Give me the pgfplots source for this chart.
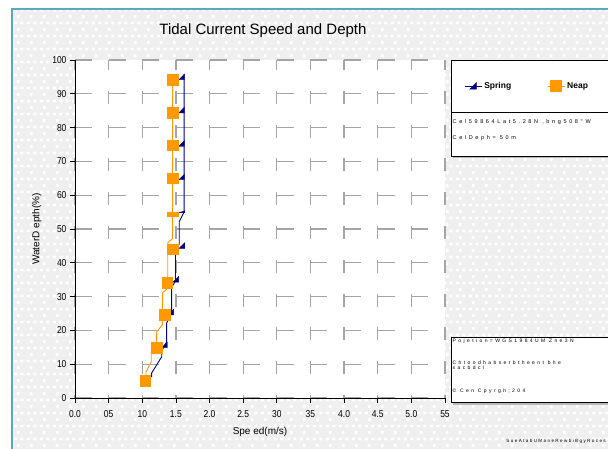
\documentclass[border=0pt]{standalone}
\usepackage{fontspec}
\setmainfont{Liberation Sans}
\newfontfamily\narrowfont[FakeStretch=0.85]{Liberation Sans}
\newfontfamily\spacedfont[LetterSpace=48]{Liberation Sans}
\newfontfamily\tightfont[LetterSpace=30]{Liberation Sans}
\usepackage{pgfplots}
\pgfplotsset{compat=1.18}
\usetikzlibrary{patterns}
\definecolor{springc}{RGB}{0,0,128}
\definecolor{neapc}{RGB}{255,153,0}
\definecolor{bggray}{RGB}{239,239,239}
\definecolor{teal1}{RGB}{90,168,184}
\definecolor{gridc}{RGB}{165,165,165}

\pgfdeclarepatternformonly{bgsq}{\pgfqpoint{0pt}{0pt}}{\pgfqpoint{13.4pt}{13.4pt}}{\pgfqpoint{13.4pt}{13.4pt}}{%
 \pgfpathrectangle{\pgfqpoint{1pt}{9pt}}{\pgfqpoint{3pt}{3pt}}%
 \pgfpathrectangle{\pgfqpoint{7.7pt}{9pt}}{\pgfqpoint{3pt}{3pt}}%
 \pgfpathrectangle{\pgfqpoint{4pt}{2pt}}{\pgfqpoint{3pt}{3pt}}%
 \pgfusepath{fill}}

\pgfdeclareplotmark{rtri}{%
 \pgfpathmoveto{\pgfqpoint{\pgfplotmarksize}{\pgfplotmarksize}}%
 \pgfpathlineto{\pgfqpoint{\pgfplotmarksize}{-\pgfplotmarksize}}%
 \pgfpathlineto{\pgfqpoint{-\pgfplotmarksize}{-\pgfplotmarksize}}%
 \pgfpathclose\pgfusepathqfillstroke}

\begin{document}
\begin{tikzpicture}[x=1pt,y=1pt]
\clip (0,0) rectangle (608,448);
\fill[white] (0,0) rectangle (608,448);
\fill[bggray] (12,-5) rectangle (620,439);
\fill[pattern=bgsq, pattern color=white] (12,-5) rectangle (620,439);
\draw[teal1, line width=1.2pt] (12,-5) -- (12,439) -- (620,439);
% right-hand boxes
\fill[gray!55] (453,289.5) rectangle (617,386);
\draw[fill=white, line width=0.8pt] (451,292) rectangle (615,388);
\draw[line width=0.8pt] (451,336) -- (615,336);
\fill[gray!55] (453,43.5) rectangle (617,109);
\draw[fill=white, line width=0.8pt] (451,46) rectangle (615,111);
% small texts
\node[anchor=west, inner sep=0pt, font=\spacedfont\fontsize{5.5}{6}\selectfont] at (452.5,326) {Cel59864Lat5.28N ,bng508°W};
\node[anchor=west, inner sep=0pt, font=\spacedfont\fontsize{5.5}{6}\selectfont] at (452.5,309.7) {CelDeph= 50m};
\node[anchor=west, inner sep=0pt, font=\spacedfont\fontsize{5}{6}\selectfont] at (452.5,107) {Pojetion=WGS1984UM Zne3N};
\node[anchor=west, inner sep=0pt, font=\spacedfont\fontsize{5}{6}\selectfont] at (452.5,85.7) {Chtoodhabserbtheent bhe};
\node[anchor=west, inner sep=0pt, font=\spacedfont\fontsize{5}{6}\selectfont] at (452.5,80.3) {sacbdcl};
\node[anchor=west, inner sep=0pt, font=\spacedfont\fontsize{5}{6}\selectfont] at (452.5,57) {© Cen Cpyrgh;204};
\node[anchor=east, inner sep=0pt, font=\tightfont\fontsize{4.6}{6}\selectfont] at (606,7) {SueAtabUManeRewbiBgyRoces};

\begin{axis}[
  at={(75pt,50pt)}, anchor=south west,
  width=370pt, height=338pt, scale only axis,
  xmin=0, xmax=5.5, ymin=0, ymax=100,
  axis x line*=bottom, axis y line*=left,
  axis line style={black, line width=0.8pt},
  xtick={0,0.5,1,1.5,2,2.5,3,3.5,4,4.5,5,5.5},
  xticklabels={0.0,05,10,1.5,2.0,2.5,30,35,4.0,4.5,5.0,55},
  ytick={0,10,20,30,40,50,60,70,80,90,100},
  tick align=outside, major tick length=5pt,
  tick style={black, line width=0.8pt},
  grid=major,
  x grid style={gridc, line width=1.2pt, dash pattern=on 13pt off 20.8pt, dash phase=10pt},
  y grid style={gridc, line width=1.2pt, dash pattern=on 17pt off 16.64pt},
  ticklabel style={font=\narrowfont\fontsize{10}{12}\selectfont},
  xticklabel style={yshift=-4pt},
  /pgf/number format/assume math mode=true,
  axis background/.style={fill=white},
  title={Tidal Current Speed and Depth},
  title style={at={(axis description cs:0.508,1.068)}, anchor=center, font=\fontsize{15}{17}\selectfont},
  xlabel={Spe ed(m/s)},
  xlabel style={at={(axis description cs:0.5,-0.1006)}, anchor=center, font=\fontsize{10}{12}\selectfont},
  ylabel={WaterD epth(\%)},
  ylabel style={at={(axis description cs:-0.1035,0.5)}, anchor=center, rotate=0, font=\fontsize{10}{12}\selectfont},
  legend style={at={(axis description cs:1.222,0.923)}, anchor=center, draw=none, fill=none,
    font=\bfseries\fontsize{8.5}{10}\selectfont, legend columns=2,
    /tikz/every even column/.append style={column sep=34pt}},
]
\addlegendimage{springc, line width=0.9pt, mark=rtri, mark size=3pt}
\addlegendentry{Spring}
\addlegendimage{neapc, line width=0.9pt, mark=square*, mark size=5.5pt}
\addlegendentry{Neap}

% Spring profile line
\addplot[springc, line width=0.9pt, forget plot] coordinates {
 (1.140,6.2) (1.140,7.4) (1.289,12.2) (1.289,13.9) (1.363,16.6) (1.363,22.2)
 (1.437,25.1) (1.437,32.8) (1.494,34.6) (1.494,43.5) (1.550,45.6) (1.550,52.2)
 (1.623,55.1) (1.623,95.9)
};
% Spring markers
\addplot[only marks, mark=rtri, mark size=2.8pt, springc, forget plot] coordinates {
 (1.330,15.7) (1.424,25.4) (1.498,35.1) (1.590,45.1)
 (1.586,65.4) (1.586,75.3) (1.586,85.2) (1.586,95.0)
};
\addplot[only marks, mark=rtri, mark size=2.8pt, mark options={yscale=0.3}, springc, forget plot] coordinates {
 (1.590,55.1)
};
% Neap profile line
\addplot[neapc, line width=0.9pt, forget plot] coordinates {
 (1.055,5.3) (1.055,7.7) (1.134,10.7) (1.134,14.2) (1.214,16.6) (1.214,19.6)
 (1.298,21.6) (1.298,31.0) (1.378,32.5) (1.378,45.9) (1.452,47.2) (1.452,94.1)
};
% Neap markers
\addplot[only marks, mark=square*, mark size=5.3pt, neapc, forget plot] coordinates {
 (1.045,5.1) (1.214,14.9) (1.333,24.6) (1.370,34.2) (1.452,44.0)
 (1.452,65.0) (1.452,74.8) (1.452,84.4) (1.452,94.2)
};
\addplot[only marks, mark=square*, mark size=5.3pt, mark options={yscale=0.45}, neapc, forget plot] coordinates {
 (1.452,54.4)
};
\end{axis}
\end{tikzpicture}
\end{document}
